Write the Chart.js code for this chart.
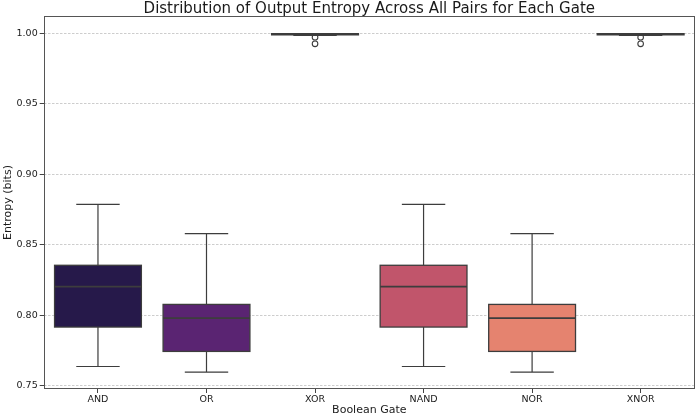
<!DOCTYPE html>
<html><head><meta charset="utf-8">
<script src="https://cdn.jsdelivr.net/npm/chart.js@4.4.0/dist/chart.umd.min.js"></script>
<style>html,body{margin:0;padding:0;background:#fff}</style>
</head><body>
<canvas id="c" width="700" height="418" style="width:700px;height:418px;display:block"></canvas>
<script>
const gates = ['AND', 'OR', 'XOR', 'NAND', 'NOR', 'XNOR'];
const whiskerLow  = [0.7635, 0.7595, 0.9988, 0.7635, 0.7595, 0.9988];
const q1          = [0.7915, 0.7742, 0.9991, 0.7915, 0.7742, 0.9991];
const median      = [0.8202, 0.7979, 0.9997, 0.8202, 0.7979, 0.9997];
const q3          = [0.8354, 0.8076, 0.99995, 0.8354, 0.8076, 0.99995];
const whiskerHigh = [0.8786, 0.8579, 1.0000, 0.8786, 0.8579, 1.0000];
const outlierGates  = ['XOR', 'XOR', 'XNOR', 'XNOR'];
const outlierValues = [0.9974, 0.9927, 0.9974, 0.9927];
const yTicks = [0.75, 0.80, 0.85, 0.90, 0.95, 1.00];
const boxColors = ['#26194a', '#5a2472', '#8a3a78', '#c1556b', '#e5836f', '#eebc91'];
const chartTitle = 'Distribution of Output Entropy Across All Pairs for Each Gate';

const LINE = '#3d3d3d';
const FONT = 'DejaVu Sans';

const boxDecor = {
  id: 'boxDecor',
  afterDatasetDraw(chart, args) {
    if (args.index !== 0) return;
    const ctx = chart.ctx;
    const y = chart.scales.y;
    const meta = chart.getDatasetMeta(0);
    ctx.save();
    ctx.strokeStyle = LINE;
    meta.data.forEach((el, i) => {
      const cx = el.x, w = el.width, half = w / 2, cap = w / 4;
      const pLo = y.getPixelForValue(whiskerLow[i]);
      const pHi = y.getPixelForValue(whiskerHigh[i]);
      const pQ1 = y.getPixelForValue(q1[i]);
      const pQ3 = y.getPixelForValue(q3[i]);
      const pMed = y.getPixelForValue(median[i]);
      ctx.lineWidth = 1.2;
      ctx.beginPath();
      ctx.moveTo(cx, pQ3); ctx.lineTo(cx, pHi);
      ctx.moveTo(cx, pQ1); ctx.lineTo(cx, pLo);
      ctx.moveTo(cx - cap, pHi); ctx.lineTo(cx + cap, pHi);
      ctx.moveTo(cx - cap, pLo); ctx.lineTo(cx + cap, pLo);
      ctx.stroke();
      ctx.lineWidth = 1.3;
      ctx.strokeRect(cx - half, pQ3, w, pQ1 - pQ3);
      ctx.lineWidth = 1.7;
      ctx.beginPath();
      ctx.moveTo(cx - half, pMed); ctx.lineTo(cx + half, pMed);
      ctx.stroke();
    });
    ctx.restore();
  }
};

const frameAndTitle = {
  id: 'frameAndTitle',
  afterDraw(chart) {
    const a = chart.chartArea, ctx = chart.ctx;
    ctx.save();
    ctx.strokeStyle = '#555';
    ctx.lineWidth = 1;
    ctx.strokeRect(Math.round(a.left) + 0.5, Math.round(a.top) + 0.5,
                   Math.round(a.right - a.left) - 1, Math.round(a.bottom - a.top) - 1);
    ctx.fillStyle = '#1a1a1a';
    ctx.font = '15px "' + FONT + '"';
    ctx.textAlign = 'center';
    ctx.textBaseline = 'alphabetic';
    ctx.fillText(chartTitle, (a.left + a.right) / 2, 13);
    ctx.restore();
  }
};

new Chart(document.getElementById('c'), {
  data: {
    labels: gates,
    datasets: [
      {
        type: 'bar',
        order: 1,
        data: gates.map((g, i) => [q1[i], q3[i]]),
        backgroundColor: boxColors,
        borderWidth: 0,
        barPercentage: 0.8,
        categoryPercentage: 1.0
      },
      {
        type: 'line',
        order: 0,
        data: outlierGates.map((g, i) => ({ x: g, y: outlierValues[i] })),
        showLine: false,
        pointStyle: 'circle',
        pointRadius: 2.8,
        pointBorderWidth: 1.1,
        pointBorderColor: LINE,
        pointBackgroundColor: 'rgba(255,255,255,0)'
      }
    ]
  },
  options: {
    responsive: false,
    devicePixelRatio: 1,
    animation: false,
    layout: { padding: { left: 0, right: 1.5, top: 16, bottom: 0 } },
    plugins: {
      legend: { display: false },
      tooltip: { enabled: false },
      title: { display: false }
    },
    scales: {
      x: {
        type: 'category',
        offset: true,
        afterFit(s) { s.height = 29; },
        grid: { display: true, drawOnChartArea: false, offset: false, tickLength: 4, tickColor: '#444', tickWidth: 1 },
        border: { display: false },
        ticks: { color: '#1a1a1a', font: { family: FONT, size: 9.5 }, padding: 1, maxRotation: 0 },
        title: { display: true, text: 'Boolean Gate', color: '#1a1a1a', font: { family: FONT, size: 11 }, padding: { top: 0, bottom: 1.5 } }
      },
      y: {
        type: 'linear',
        min: 0.7475,
        max: 1.0125,
        afterFit(s) { s.width = 43.7; },
        afterBuildTicks(s) { s.ticks = yTicks.map(v => ({ value: v })); },
        grid: { color: 'rgba(176,176,176,0.8)', lineWidth: 0.8, tickLength: 4, tickColor: '#444', tickWidth: 1, tickBorderDash: [] },
        border: { display: false, dash: [2.5, 1.5] },
        ticks: { color: '#1a1a1a', font: { family: FONT, size: 9.5 }, padding: 2, callback: v => Number(v).toFixed(2) },
        title: { display: true, text: 'Entropy (bits)', color: '#1a1a1a', font: { family: FONT, size: 11 }, padding: { top: 1.5, bottom: 0 } }
      }
    }
  },
  plugins: [boxDecor, frameAndTitle]
});
</script>
</body></html>
